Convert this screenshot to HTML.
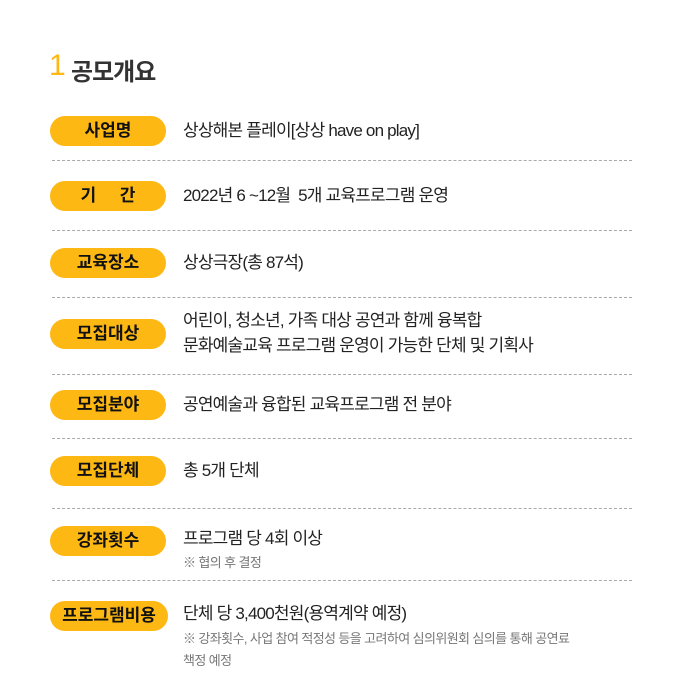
<!DOCTYPE html>
<html><head><meta charset="utf-8"><style>
body{margin:0;width:700px;height:700px;background:#fff;position:relative;overflow:hidden;font-family:"Liberation Sans","Noto Sans CJK KR",sans-serif;color:#222}
.a{position:absolute;white-space:nowrap}
.pill{position:absolute;left:50px;width:116px;height:30px;border-radius:15px;background:#fdb813;font-weight:bold;font-size:17px;line-height:30px;text-align:center;color:#111}
.t{position:absolute;left:183px;font-size:17px;letter-spacing:-0.8px;line-height:22px;white-space:nowrap}
.n{position:absolute;left:183px;font-size:13px;color:#777;letter-spacing:-0.6px;white-space:nowrap;line-height:20px}
.d{position:absolute;left:52px;width:580px;border-top:1px dashed #aaa;height:0}
</style></head><body>
<div class="a" style="left:49px;top:50px;font-size:30px;line-height:32px;color:#fdb813">1</div>
<div class="a" style="left:71px;top:52px;font-size:24px;font-weight:bold;color:#333;letter-spacing:-1px">공모개요</div>

<div class="pill" style="top:116px">사업명</div>
<div class="t" style="top:120px">상상해본 플레이[상상 have on play]</div>
<div class="d" style="top:160px"></div>

<div class="pill" style="top:181px">기&nbsp;&nbsp;&nbsp;&nbsp;&nbsp;간</div>
<div class="t" style="top:185px">2022년 6 ~12월&nbsp; 5개 교육프로그램 운영</div>
<div class="d" style="top:230px"></div>

<div class="pill" style="top:248px">교육장소</div>
<div class="t" style="top:252px">상상극장(총 87석)</div>
<div class="d" style="top:297px"></div>

<div class="pill" style="top:319px">모집대상</div>
<div class="t" style="top:310px">어린이, 청소년, 가족 대상 공연과 함께 융복합</div>
<div class="t" style="top:335px">문화예술교육 프로그램 운영이 가능한 단체 및 기획사</div>
<div class="d" style="top:374px"></div>

<div class="pill" style="top:390px">모집분야</div>
<div class="t" style="top:394px">공연예술과 융합된 교육프로그램 전 분야</div>
<div class="d" style="top:438px"></div>

<div class="pill" style="top:456px">모집단체</div>
<div class="t" style="top:460px">총 5개 단체</div>
<div class="d" style="top:508px"></div>

<div class="pill" style="top:526px">강좌횟수</div>
<div class="t" style="top:528px">프로그램 당 4회 이상</div>
<div class="n" style="top:553px">※ 협의 후 결정</div>
<div class="d" style="top:580px"></div>

<div class="pill" style="top:601px;width:118px">프로그램비용</div>
<div class="t" style="top:603px">단체 당 3,400천원(용역계약 예정)</div>
<div class="n" style="top:629px">※ 강좌횟수, 사업 참여 적정성 등을 고려하여 심의위원회 심의를 통해 공연료</div>
<div class="n" style="top:651px">책정 예정</div>
</body></html>
